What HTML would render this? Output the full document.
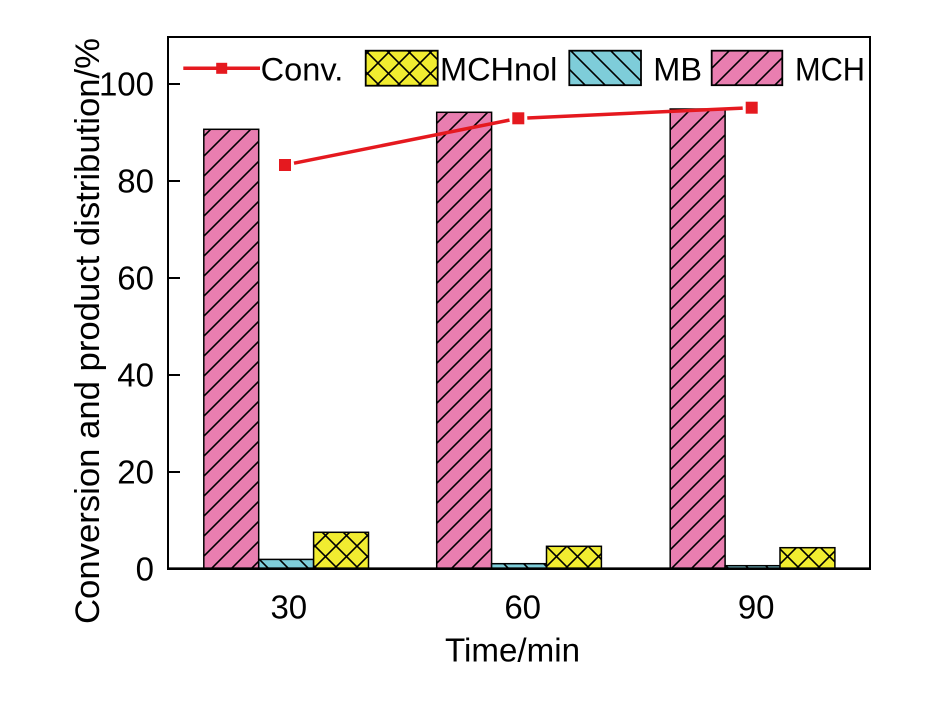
<!DOCTYPE html>
<html>
<head>
<meta charset="utf-8">
<style>
  html, body { margin:0; padding:0; background:#ffffff; }
  svg { display:block; }
  text { font-family: "Liberation Sans", Arial, sans-serif; fill:#000; }
</style>
</head>
<body>
<svg width="952" height="701" viewBox="0 0 952 701" xmlns="http://www.w3.org/2000/svg">
  <defs>
    <pattern id="pMCH" patternUnits="userSpaceOnUse" width="20" height="20">
      <rect width="20" height="20" fill="#E97EB0"/>
      <path d="M-5,5 L5,-5 M0,20 L20,0 M15,25 L25,15" stroke="#000" stroke-width="1.6" fill="none"/>
    </pattern>
    <pattern id="pMB" patternUnits="userSpaceOnUse" width="20" height="20">
      <rect width="20" height="20" fill="#7ECDD9"/>
      <path d="M0,0 L20,20 M-5,15 L5,25 M15,-5 L25,5" stroke="#000" stroke-width="1.6" fill="none"/>
    </pattern>
    <pattern id="pMCHnol" patternUnits="userSpaceOnUse" width="21" height="21">
      <rect width="21" height="21" fill="#F1EC30"/>
      <path d="M0,0 L21,21 M-5,16 L5,26 M16,-5 L26,5 M-5,5 L5,-5 M0,21 L21,0 M16,26 L26,16" stroke="#000" stroke-width="1.6" fill="none"/>
    </pattern>
  </defs>

  <rect x="0" y="0" width="952" height="701" fill="#fff"/>

  <!-- Bars group 30 -->
  <rect x="203.8" y="129.3" width="54.9" height="439.4" fill="url(#pMCH)" stroke="#000" stroke-width="1.5"/>
  <rect x="258.7" y="559.4" width="54.9" height="9.3" fill="url(#pMB)" stroke="#000" stroke-width="1.5"/>
  <rect x="313.6" y="532.3" width="54.9" height="36.4" fill="url(#pMCHnol)" stroke="#000" stroke-width="1.5"/>
  <!-- Bars group 60 -->
  <rect x="436.7" y="112.3" width="54.9" height="456.4" fill="url(#pMCH)" stroke="#000" stroke-width="1.5"/>
  <rect x="491.6" y="563.7" width="54.9" height="5" fill="url(#pMB)" stroke="#000" stroke-width="1.5"/>
  <rect x="546.5" y="546.3" width="54.9" height="22.4" fill="url(#pMCHnol)" stroke="#000" stroke-width="1.5"/>
  <!-- Bars group 90 -->
  <rect x="670.2" y="109" width="54.9" height="459.7" fill="url(#pMCH)" stroke="#000" stroke-width="1.5"/>
  <rect x="725.1" y="565.7" width="54.9" height="3" fill="url(#pMB)" stroke="#000" stroke-width="1.5"/>
  <rect x="780" y="547.7" width="54.9" height="21" fill="url(#pMCHnol)" stroke="#000" stroke-width="1.5"/>

  <!-- Conversion line -->
  <g stroke="#E5191F" stroke-width="3.5" fill="none">
    <line x1="294" y1="163.2" x2="509.5" y2="120.1"/>
    <line x1="527.3" y1="118" x2="742.7" y2="108.1"/>
  </g>
  <g fill="#E5191F">
    <rect x="279" y="159" width="12" height="12"/>
    <rect x="512.3" y="112.3" width="12" height="12"/>
    <rect x="745.7" y="101.7" width="12" height="12"/>
  </g>

  <!-- Axes frame -->
  <g stroke="#000" fill="none">
    <line x1="168" y1="37" x2="870" y2="37" stroke-width="2"/>
    <line x1="168" y1="36" x2="168" y2="570" stroke-width="2"/>
    <line x1="870" y1="36" x2="870" y2="570" stroke-width="2"/>
    <line x1="167" y1="568.7" x2="871" y2="568.7" stroke-width="2.6"/>
    <!-- y ticks -->
    <line x1="168" y1="84" x2="180" y2="84" stroke-width="2"/>
    <line x1="168" y1="181" x2="180" y2="181" stroke-width="2"/>
    <line x1="168" y1="278" x2="180" y2="278" stroke-width="2"/>
    <line x1="168" y1="375" x2="180" y2="375" stroke-width="2"/>
    <line x1="168" y1="472" x2="180" y2="472" stroke-width="2"/>
  </g>

  <!-- y tick labels -->
  <g font-size="33" text-anchor="end">
    <text x="154" y="95.7">100</text>
    <text x="154" y="192.7">80</text>
    <text x="154" y="289.7">60</text>
    <text x="154" y="386.7">40</text>
    <text x="154" y="483.7">20</text>
    <text x="154" y="580.5">0</text>
  </g>

  <!-- x tick labels -->
  <g font-size="33" text-anchor="middle">
    <text x="288.8" y="618.5">30</text>
    <text x="522.7" y="618.5">60</text>
    <text x="756.2" y="618.5">90</text>
  </g>

  <!-- axis titles -->
  <text x="445" y="661.7" font-size="33" textLength="135" lengthAdjust="spacingAndGlyphs">Time/min</text>
  <text transform="translate(99,624) rotate(-90)" font-size="34" textLength="586" lengthAdjust="spacingAndGlyphs">Conversion and product distribution/%</text>

  <!-- Legend -->
  <line x1="183.3" y1="68.3" x2="260" y2="68.3" stroke="#E5191F" stroke-width="3.5"/>
  <rect x="216.2" y="62.8" width="11" height="11" fill="#E5191F"/>
  <text x="260.7" y="80.7" font-size="32.5" textLength="82.6" lengthAdjust="spacingAndGlyphs">Conv.</text>

  <rect x="365.7" y="50.7" width="72" height="35" fill="url(#pMCHnol)" stroke="#000" stroke-width="1.8"/>
  <text x="440" y="80.7" font-size="32.5">MCHnol</text>

  <rect x="569.3" y="50.7" width="71.7" height="34.5" fill="url(#pMB)" stroke="#000" stroke-width="1.8"/>
  <text x="653.3" y="80.7" font-size="32.5">MB</text>

  <rect x="711.7" y="50.7" width="70.6" height="34.5" fill="url(#pMCH)" stroke="#000" stroke-width="1.8"/>
  <text x="795" y="80.7" font-size="32.5" textLength="70" lengthAdjust="spacingAndGlyphs">MCH</text>
</svg>
</body>
</html>
